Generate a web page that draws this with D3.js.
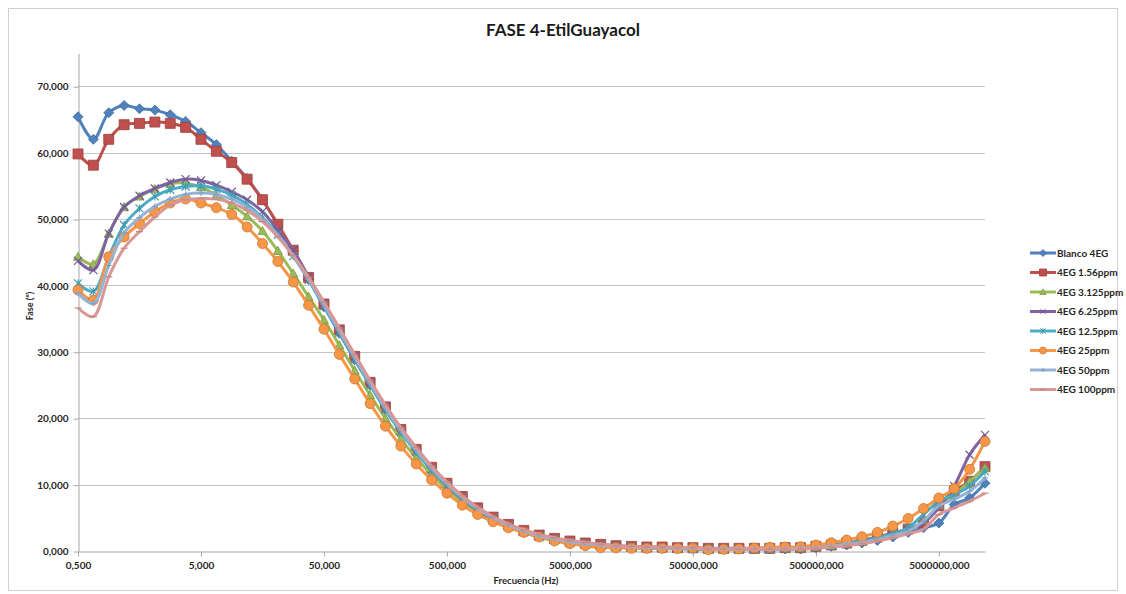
<!DOCTYPE html>
<html>
<head>
<meta charset="utf-8">
<script src="https://cdnjs.cloudflare.com/ajax/libs/d3/7.8.5/d3.min.js"></script>
<style>
    body { margin: 0; background: #fff; }
    text { font-family: Lato, "Open Sans", sans-serif; }
    .axis text { font-size: 10px; font-weight: bold; fill: #262626; }
    .axis path, .axis line { stroke: #a6a6a6; }
    .grid line { stroke: #c4c4c4; stroke-width: 1; }
    .legend text { font-size: 10px; font-weight: bold; fill: #262626; }
</style>
</head>
<body>
<svg id="chart" width="1126" height="594"></svg>
<script>
// frequencies (Hz), one category per measurement
var freqs = [0.5, 0.667, 0.889, 1.19, 1.58, 2.11, 2.81, 3.75,
    5, 6.67, 8.89, 11.9, 15.8, 21.1, 28.1, 37.5,
    50, 66.7, 88.9, 119, 158, 211, 281, 375,
    500, 667, 889, 1190, 1580, 2110, 2810, 3750,
    5000, 6670, 8890, 11900, 15800, 21100, 28100, 37500,
    50000, 66700, 88900, 119000, 158000, 211000, 281000, 375000,
    500000, 667000, 889000, 1190000, 1580000, 2110000, 2810000, 3750000,
    5000000, 6670000, 8890000, 11900000];

var xTickLabels = [0.5, 5, 50, 500, 5000, 50000, 500000, 5000000];
var yTickLabels = [0, 10, 20, 30, 40, 50, 60, 70];

var seriesNames = ["Blanco 4EG", "4EG 1.56ppm", "4EG 3.125ppm", "4EG 6.25ppm",
    "4EG 12.5ppm", "4EG 25ppm", "4EG 50ppm", "4EG 100ppm"];

var blanco = [65.4, 62.0, 66.0, 67.1, 66.6, 66.4, 65.7, 64.7, 63.0, 61.2,
    58.7, 56.1, 52.9, 49.1, 45.1, 40.9, 36.8, 32.8, 28.8, 25.0,
    21.3, 18.0, 15.0, 12.3, 10.0, 8.0, 6.3, 5.0, 3.9, 3.0,
    2.3, 1.8, 1.4, 1.1, 0.9, 0.7, 0.6, 0.5, 0.5, 0.4,
    0.4, 0.3, 0.3, 0.3, 0.3, 0.3, 0.3, 0.3, 0.5, 0.7,
    0.9, 1.2, 1.6, 2.1, 2.8, 3.5, 4.2, 7.0, 8.0, 10.2];

var ppm156 = [59.8, 58.1, 62.0, 64.2, 64.4, 64.6, 64.4, 63.8, 62.0, 60.2,
    58.5, 56.0, 52.9, 49.2, 45.3, 41.2, 37.2, 33.3, 29.3, 25.4,
    21.7, 18.3, 15.3, 12.6, 10.2, 8.2, 6.5, 5.1, 4.0, 3.1,
    2.4, 1.9, 1.5, 1.2, 1.0, 0.8, 0.7, 0.6, 0.6, 0.5,
    0.5, 0.4, 0.4, 0.4, 0.4, 0.4, 0.5, 0.5, 0.7, 0.9,
    1.2, 1.6, 2.1, 2.7, 3.3, 4.3, 6.8, 9.0, 10.5, 12.7];

var ppm3125 = [44.3, 43.2, 47.8, 51.8, 53.4, 54.5, 55.3, 55.4, 54.8, 53.6,
    52.1, 50.4, 48.2, 45.2, 41.8, 38.3, 34.8, 31.0, 27.2, 23.5,
    20.0, 16.9, 14.0, 11.5, 9.3, 7.4, 5.9, 4.6, 3.6, 2.8,
    2.1, 1.6, 1.2, 0.9, 0.7, 0.6, 0.5, 0.4, 0.4, 0.3,
    0.3, 0.2, 0.2, 0.2, 0.3, 0.3, 0.4, 0.4, 0.6, 0.8,
    1.1, 1.4, 1.9, 2.5, 3.2, 4.5, 6.9, 8.5, 10.5, 12.5];

var ppm625 = [43.7, 42.3, 47.8, 51.8, 53.5, 54.6, 55.5, 56.0, 55.8, 55.1,
    54.1, 52.9, 51.1, 48.3, 45.3, 41.3, 37.3, 33.4, 29.3, 25.3,
    21.5, 18.0, 15.0, 12.2, 9.8, 7.8, 6.1, 4.8, 3.7, 2.9,
    2.2, 1.7, 1.3, 1.0, 0.8, 0.6, 0.5, 0.5, 0.4, 0.4,
    0.4, 0.3, 0.3, 0.3, 0.3, 0.4, 0.4, 0.5, 0.7, 0.9,
    1.2, 1.5, 2.0, 2.5, 3.2, 4.2, 6.5, 9.8, 14.5, 17.5];

var ppm125 = [40.3, 39.1, 44.3, 49.1, 51.6, 53.4, 54.4, 54.9, 55.0, 54.5,
    53.6, 52.2, 50.2, 47.6, 44.4, 40.8, 36.9, 32.9, 28.9, 25.0,
    21.3, 17.9, 14.9, 12.2, 9.9, 7.9, 6.2, 4.9, 3.8, 2.9,
    2.3, 1.8, 1.4, 1.1, 0.8, 0.7, 0.6, 0.5, 0.4, 0.4,
    0.3, 0.3, 0.3, 0.3, 0.3, 0.3, 0.4, 0.4, 0.6, 0.8,
    1.1, 1.5, 2.0, 2.6, 3.5, 5.5, 7.5, 8.5, 9.8, 12.0];

var ppm25 = [39.3, 37.8, 44.3, 47.3, 49.3, 51.1, 52.4, 53.0, 52.4, 51.7,
    50.7, 48.8, 46.3, 43.6, 40.5, 37.0, 33.4, 29.6, 25.9, 22.2,
    18.8, 15.8, 13.1, 10.7, 8.7, 6.9, 5.5, 4.4, 3.5, 2.8,
    2.1, 1.5, 1.1, 0.8, 0.5, 0.5, 0.4, 0.4, 0.4, 0.4,
    0.45, 0.2, 0.25, 0.3, 0.45, 0.55, 0.6, 0.65, 0.9, 1.25,
    1.65, 2.15, 2.8, 3.75, 4.9, 6.4, 8.0, 9.4, 12.3, 16.5];

var ppm50 = [38.8, 37.3, 43.0, 47.9, 50.2, 51.9, 53.0, 53.7, 53.9, 53.7,
    53.0, 51.8, 50.0, 47.5, 44.4, 40.9, 37.1, 33.2, 29.2, 25.3,
    21.6, 18.2, 15.2, 12.5, 10.1, 8.1, 6.4, 5.0, 3.9, 3.0,
    2.3, 1.8, 1.4, 1.1, 0.9, 0.7, 0.6, 0.5, 0.5, 0.4,
    0.4, 0.3, 0.3, 0.3, 0.3, 0.3, 0.3, 0.4, 0.5, 0.7,
    1.0, 1.3, 1.7, 2.3, 3.0, 4.5, 6.8, 7.8, 9.0, 11.0];

var ppm100 = [36.6, 35.3, 41.3, 45.6, 48.1, 50.3, 52.1, 52.9, 53.1, 53.0,
    52.4, 51.3, 49.6, 47.3, 44.5, 41.2, 37.5, 33.6, 29.6, 25.7,
    22.0, 18.6, 15.6, 12.8, 10.4, 8.3, 6.6, 5.2, 4.1, 3.2,
    2.5, 2.0, 1.6, 1.3, 1.0, 0.8, 0.7, 0.6, 0.6, 0.5,
    0.5, 0.3, 0.3, 0.3, 0.3, 0.3, 0.3, 0.3, 0.4, 0.6,
    0.8, 1.1, 1.5, 2.0, 2.6, 3.3, 5.5, 6.5, 7.5, 8.7];

var allValues = [blanco, ppm156, ppm3125, ppm625, ppm125, ppm25, ppm50, ppm100];
var colors = ["#4f81bd", "#c0504d", "#9bbb59", "#8064a2", "#4bacc6", "#f79646", "#95b3d7", "#d99795"];
var markers = ["diamond", "square", "triangle", "x", "star", "circle", "plus", "dash"];

var svg = d3.select("#chart");

var plotLeft = 78, plotRight = 985, plotTop = 53, plotBottom = 551;

var x = d3.scalePoint()
    .domain(freqs)
    .range([plotLeft, plotRight]);

var y = d3.scaleLinear()
    .domain([0, 75])
    .range([plotBottom, plotTop]);

function fmt(v) { return d3.format(".3f")(v).replace(".", ","); }

// chart frame
svg.append("rect")
    .attr("x", 8.5).attr("y", 8.5)
    .attr("width", 1109).attr("height", 582)
    .attr("fill", "#fff")
    .attr("stroke", "#d0d0d0");

// title
svg.append("text")
    .attr("x", 563).attr("y", 36)
    .attr("text-anchor", "middle")
    .style("font-size", "17px")
    .style("font-weight", "bold")
    .style("fill", "#1a1a1a")
    .text("FASE 4-EtilGuayacol");

// grid
svg.append("g").attr("class", "grid")
    .selectAll("line")
    .data(yTickLabels.slice(1))
    .enter().append("line")
    .attr("x1", plotLeft).attr("x2", plotRight)
    .attr("y1", function(d) { return Math.round(y(d)) + 0.5; })
    .attr("y2", function(d) { return Math.round(y(d)) + 0.5; });

// axes
svg.append("g").attr("class", "axis")
    .attr("transform", "translate(" + (plotLeft + 0.5) + ",0.5)")
    .call(d3.axisLeft(y).tickValues(yTickLabels).tickSize(5).tickSizeOuter(0).tickPadding(5).tickFormat(fmt));

svg.append("g").attr("class", "axis")
    .attr("transform", "translate(0," + (plotBottom + 0.5) + ")")
    .call(d3.axisBottom(x).tickValues(xTickLabels).tickSize(5).tickSizeOuter(0).tickPadding(5).tickFormat(fmt));

// axis titles
svg.append("text")
    .attr("transform", "translate(33,306) rotate(-90)")
    .attr("text-anchor", "middle")
    .style("font-size", "9px")
    .style("font-weight", "bold")
    .style("fill", "#262626")
    .text("Fase (º)");

svg.append("text")
    .attr("x", 526).attr("y", 584)
    .attr("text-anchor", "middle")
    .style("font-size", "9.5px")
    .style("font-weight", "bold")
    .style("fill", "#262626")
    .text("Frecuencia (Hz)");

// marker shapes
function markerPath(type, s) {
    var h = s / 2;
    if (type == "diamond") return "M0," + (-h) + "L" + h + ",0L0," + h + "L" + (-h) + ",0Z";
    if (type == "square") return "M" + (-h) + "," + (-h) + "h" + s + "v" + s + "h" + (-s) + "Z";
    if (type == "triangle") return "M0," + (-h) + "L" + h + "," + (h * 0.8) + "L" + (-h) + "," + (h * 0.8) + "Z";
    if (type == "circle") return d3.symbol().type(d3.symbolCircle).size(Math.PI * h * h)();
    if (type == "x") return "M" + (-h) + "," + (-h) + "L" + h + "," + h + "M" + (-h) + "," + h + "L" + h + "," + (-h);
    if (type == "star") return "M" + (-h) + "," + (-h) + "L" + h + "," + h + "M" + (-h) + "," + h + "L" + h + "," + (-h) + "M0," + (-h) + "V" + h;
    if (type == "plus") return "M" + (-h) + ",0H" + h + "M0," + (-h) + "V" + h;
    return "M" + (-h) + ",0H" + h;
}
var filled = { diamond: true, square: true, triangle: true, circle: true };
var sizes = { diamond: 10, square: 10, triangle: 9, circle: 10, x: 8, star: 8, plus: 6, dash: 7 };

var line = d3.line()
    .x(function(d, i) { return x(freqs[i]); })
    .y(function(d) { return y(d); })
    .curve(d3.curveCatmullRom.alpha(0.5));

allValues.forEach(function(vals, k) {
    var g = svg.append("g");
    g.append("path")
        .attr("d", line(vals))
        .attr("fill", "none")
        .attr("stroke", colors[k])
        .attr("stroke-width", 3)
        .attr("stroke-linejoin", "round");

    g.selectAll(".m")
        .data(vals)
        .enter().append("path")
        .attr("transform", function(d, i) { return "translate(" + x(freqs[i]) + "," + y(d) + ")"; })
        .attr("d", markerPath(markers[k], sizes[markers[k]]))
        .attr("fill", filled[markers[k]] ? colors[k] : "none")
        .attr("stroke", filled[markers[k]] ? d3.color(colors[k]).darker(0.6) : d3.color(colors[k]).darker(0.3))
        .attr("stroke-width", filled[markers[k]] ? 0.8 : 1.2);
});

// legend
var legend = svg.append("g").attr("class", "legend")
    .attr("transform", "translate(1030,253)");

var item = legend.selectAll("g")
    .data(seriesNames)
    .enter().append("g")
    .attr("transform", function(d, i) { return "translate(0," + (i * 19.5) + ")"; });

item.append("line")
    .attr("x1", 0).attr("x2", 26)
    .attr("stroke", function(d, i) { return colors[i]; })
    .attr("stroke-width", 3);

item.append("path")
    .attr("transform", "translate(13,0)")
    .attr("d", function(d, i) { return markerPath(markers[i], sizes[markers[i]] * 0.7); })
    .attr("fill", function(d, i) { return filled[markers[i]] ? colors[i] : "none"; })
    .attr("stroke", function(d, i) { return d3.color(colors[i]).darker(0.5); })
    .attr("stroke-width", 0.8);

item.append("text")
    .attr("x", 27).attr("dy", "0.35em")
    .text(function(d) { return d; });
</script>
</body>
</html>
